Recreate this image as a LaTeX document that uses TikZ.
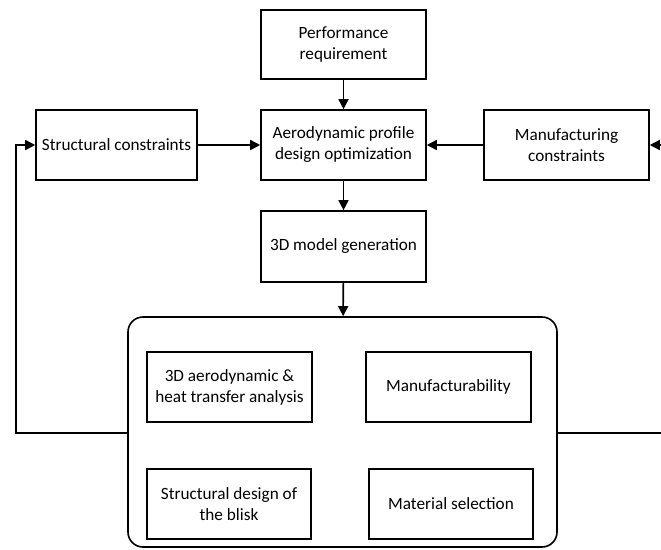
\documentclass[tikz,border=0pt]{standalone}
\usepackage{fontspec}
\setmainfont{Carlito}
\usetikzlibrary{arrows.meta}
\begin{document}
\begin{tikzpicture}[x=1pt,y=-1pt,
  box/.style={draw,line width=1.6pt,align=center,inner sep=0pt,font=\fontsize{17.2}{21}\selectfont},
  conn/.style={line width=1.6pt,-{Triangle[length=10pt,width=10pt]}},
  plain/.style={line width=1.6pt}]
\useasboundingbox (0,0) rectangle (661,549);
\node[box,minimum width=165pt,minimum height=69pt] (perf) at (343.5,44.5) {Performance\\requirement};
\node[box,minimum width=165pt,minimum height=70pt] (aero) at (343.5,145) {Aerodynamic profile\\design optimization};
\node[box,minimum width=165pt,minimum height=71pt] (model) at (343.5,246.5) {3D model generation};
\node[box,minimum width=161pt,minimum height=70pt] (struct) at (116.5,145) {Structural constraints};
\node[box,minimum width=165pt,minimum height=70pt] (manu) at (566.5,145) {Manufacturing\\constraints};
\node[draw,line width=1.6pt,rounded corners=15pt,minimum width=429pt,minimum height=230pt,inner sep=0pt] (big) at (342.5,432) {};
\node[box,minimum width=165pt,minimum height=70pt] (heat) at (229.5,387) {3D aerodynamic \&\\heat transfer analysis};
\node[box,minimum width=165pt,minimum height=70pt] (mfg) at (448.5,387) {Manufacturability};
\node[box,minimum width=164pt,minimum height=70pt] (sdes) at (229,504) {Structural design of\\the blisk};
\node[box,minimum width=164pt,minimum height=70pt] (mat) at (451,504) {Material selection};
\coordinate (rin) at (663,145);
\coordinate (rout) at (663,433);
\draw[conn] (perf) -- (aero);
\draw[conn] (aero) -- (model);
\draw[conn] (model) -- (big);
\draw[conn] (struct) -- (aero);
\draw[conn] (manu) -- (aero);
\draw[conn] (big.west |- 0,433) -| (16,145) -- (struct);
\draw[plain] (big.east |- 0,433) -- (rout);
\draw[conn] (rin) -- (manu);
\end{tikzpicture}
\end{document}
